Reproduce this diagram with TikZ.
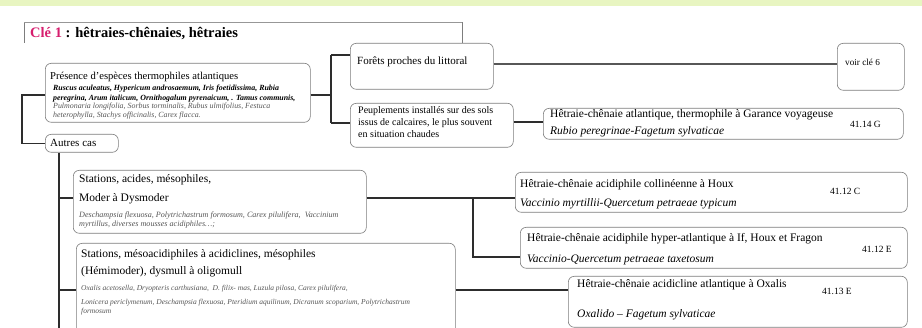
\documentclass[tikz,border=0pt]{standalone}
\usepackage{fontspec}
\setmainfont{Liberation Serif}
\usetikzlibrary{positioning}
\definecolor{bandvert}{RGB}{232,245,193}
\definecolor{rosecle}{RGB}{214,30,110}
\definecolor{grisboite}{RGB}{125,125,125}
\definecolor{grislien}{RGB}{45,45,45}
\definecolor{grisesp}{RGB}{85,85,85}
\tikzset{
  boite/.style={draw=grisboite,line width=.6pt,rounded corners=6pt,anchor=north west,inner sep=0pt},
  lbl/.style={anchor=base west,inner sep=0pt,align=left,font=\fontsize{11.5}{13}\selectfont},
  esp/.style={anchor=base west,inner sep=0pt,align=left,font=\fontsize{7.9}{9}\selectfont\itshape},
  code/.style={anchor=base west,inner sep=0pt,font=\fontsize{9.5}{12}\selectfont},
  lien/.style={draw=grislien,line width=1.1pt}
}

\begin{document}
\begin{tikzpicture}[x=1pt,y=-1pt]
      \useasboundingbox (0,0) rectangle (922,328);
      \clip (0,0) rectangle (922,328);
      \fill [bandvert] (0,0) rectangle (922,6);
      \draw [grisboite,line width=.5pt] (24,43) -- (24,22.5) (462,22.5) -- (462,43);
      \draw [grisboite!80,line width=1.5pt] (24,22.5) -- (462,22.5);
      \node [anchor=base west,inner sep=0pt,font=\fontsize{14.5}{16}\selectfont\bfseries] (titre) at (30,38)
            {\textcolor{rosecle}{Clé 1} : hêtraies-chênaies, hêtraies};

      \node [boite,minimum width=265,minimum height=59] (presence) at (45,63) {};
      \node [lbl,font=\fontsize{10.6}{13}\selectfont] (presenceT) at (50,80) {Présence d’espèces thermophiles atlantiques};
      \node [esp,font=\fontsize{7.9}{9.3}\selectfont\bfseries\itshape] (presenceB) at (53,100.3)
            {Ruscus aculeatus, Hypericum androsaemum, Iris foetidissima, Rubia\\
             peregrina, Arum italicum, Ornithogalum pyrenaicum, . Tamus communis,};
      \node [esp,text=grisesp] (presenceI) at (53,117.5)
            {Pulmonaria longifolia, Sorbus torminalis, Rubus ulmifolius, Festuca\\
             heterophylla, Stachys officinalis, Carex flacca.};

      \node [boite,minimum width=73,minimum height=18] (autres) at (45,134) {};
      \node [lbl,font=\fontsize{11}{13}\selectfont] (autresT) at (50,147) {Autres cas};

      \node [boite,minimum width=143,minimum height=46] (foret) at (350,43) {};
      \node [lbl,font=\fontsize{11}{13}\selectfont] (foretT) at (357,65) {Forêts proches du littoral};
      \node [boite,minimum width=67,minimum height=47] (voir) at (837,43) {};
      \node [lbl,font=\fontsize{9.2}{11}\selectfont] (voirT) at (845,66) {voir clé 6};

      \node [boite,minimum width=163,minimum height=44] (peuple) at (350,103) {};
      \node [lbl,font=\fontsize{10}{12}\selectfont] (peupleT) at (358,138)
            {Peuplements installés sur des sols\\issus de calcaires, le plus souvent\\en situation chaudes};
      \node [boite,minimum width=360,minimum height=31] (atlant) at (543,108) {};
      \node [lbl] (atlantT) at (550,118) {Hêtraie-chênaie atlantique, thermophile à Garance voyageuse};
      \node [lbl,font=\fontsize{11.5}{13}\selectfont\itshape] (atlantL) at (550,135) {Rubio peregrinae-Fagetum sylvaticae};
      \node [code] (atlantC) at (850,128) {41.14 G};

      \node [boite,minimum width=293,minimum height=63] (station1) at (73,170) {};
      \node [lbl] (station1T) at (79,183) {Stations, acides, mésophiles,};
      \node [lbl] (station1H) at (79,202) {Moder à Dysmoder};
      \node [esp,font=\fontsize{8.1}{9}\selectfont\itshape,text=grisesp] (station1I) at (79,226.5)
            {Deschampsia flexuosa, Polytrichastrum formosum, Carex pilulifera,\ \ Vaccinium\\
             myrtillus, diverses mousses acidiphiles…;};

      \node [boite,minimum width=392,minimum height=40] (collin) at (515,172) {};
      \node [lbl] (collinT) at (520,188) {Hêtraie-chênaie acidiphile collinéenne à Houx};
      \node [lbl,font=\fontsize{11.5}{13}\selectfont\itshape] (collinL) at (520,207) {Vaccinio myrtillii-Quercetum petraeae typicum};
      \node [code] (collinC) at (830,195) {41.12 C};

      \node [boite,minimum width=387,minimum height=41] (hyper) at (520,227) {};
      \node [lbl] (hyperT) at (527,242) {Hêtraie-chênaie acidiphile hyper-atlantique à If, Houx et Fragon};
      \node [lbl,font=\fontsize{11.5}{13}\selectfont\itshape] (hyperL) at (527,263) {Vaccinio-Quercetum petraeae taxetosum};
      \node [code] (hyperC) at (862,253) {41.12 E};

      \node [boite,minimum width=379,minimum height=110] (station2) at (76,243) {};
      \node [lbl] (station2T) at (81,258) {Stations, mésoacidiphiles à acidiclines, mésophiles};
      \node [lbl] (station2H) at (81,275) {(Hémimoder), dysmull à oligomull};
      \node [esp,font=\fontsize{7.5}{9}\selectfont\itshape,text=grisesp] (station2I) at (81,291)
            {Oxalis acetosella, Dryopteris carthusiana,\ \ D. filix- mas, Luzula pilosa, Carex pilulifera,};
      \node [esp,font=\fontsize{7.5}{9}\selectfont\itshape,text=grisesp] (station2J) at (81,314)
            {Lonicera periclymenum, Deschampsia flexuosa, Pteridium aquilinum, Dicranum scoparium, Polytrichastrum\\
             formosum};

      \node [boite,minimum width=339,minimum height=51] (oxalis) at (568,276) {};
      \node [lbl] (oxalisT) at (577,288) {Hêtraie-chênaie acidicline atlantique à Oxalis};
      \node [lbl,font=\fontsize{11.5}{13}\selectfont\itshape] (oxalisL) at (577,318) {Oxalido – Fagetum sylvaticae};
      \node [code] (oxalisC) at (822,295) {41.13 E};

      \coordinate (jA) at (22,95);
      \coordinate (jB) at (331,95);
      \coordinate (jC) at (59,198);
      \coordinate (jD) at (59,290);
      \coordinate (jE) at (473,198);
      \coordinate (bas) at (59,340);
      \draw [lien] (presence.west |- jA) -- (jA) |- (autres.west);
      \draw [lien] (autres.south -| jC) -- (bas);
      \draw [lien] (jC) -- (station1.west |- jC);
      \draw [lien] (jD) -- (station2.west |- jD);
      \draw [lien] (presence.east |- jB) -- (jB);
      \draw [lien] (jB |- 0,55) -- (jB |- 0,123);
      \draw [lien] (jB |- 0,55) -- (foret.west |- 0,55);
      \draw [lien] (jB |- 0,123) -- (peuple.west |- 0,123);
      \draw [draw=grislien!80,line width=2pt] (foret.east |- 0,64) -- (voir.west |- 0,64);
      \draw [lien] (peuple.east |- 0,122) -- (atlant.west |- 0,122);
      \draw [lien] (station1.east |- jE) -- (collin.west |- jE);
      \draw [lien] (jE) |- (hyper.west |- 0,257);
      \draw [lien] (station2.east |- jD) -- (oxalis.west |- jD);
\end{tikzpicture}
\end{document}
